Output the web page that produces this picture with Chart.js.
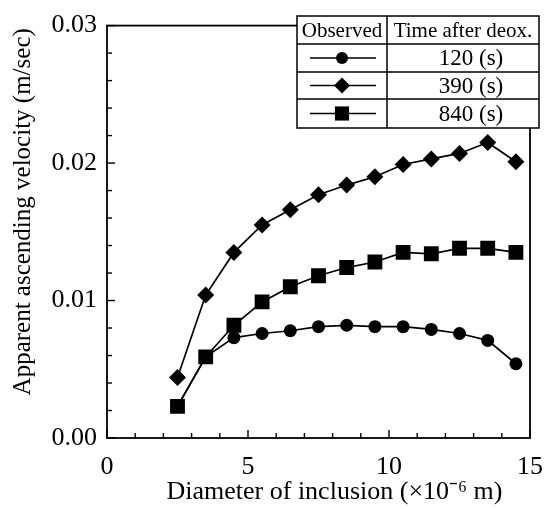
<!DOCTYPE html>
<html>
<head>
<meta charset="utf-8">
<script src="https://cdn.jsdelivr.net/npm/chart.js@4.4.1/dist/chart.umd.min.js"></script>
<style>
  html, body { margin: 0; padding: 0; background: #fff; }
</style>
</head>
<body>
<canvas id="chart" width="557" height="509"></canvas>
<script>
// Data
const diameters = [2.5, 3.5, 4.5, 5.5, 6.5, 7.5, 8.5, 9.5, 10.5, 11.5, 12.5, 13.5, 14.5];
const vel120 = [0.0023, 0.0059, 0.0073, 0.0076, 0.0078, 0.0081, 0.0082, 0.0081, 0.0081, 0.0079, 0.0076, 0.0071, 0.0054];
const vel390 = [0.0044, 0.0104, 0.0135, 0.0155, 0.0166, 0.0177, 0.0184, 0.0190, 0.0199, 0.0203, 0.0207, 0.0215, 0.0201];
const vel840 = [0.0023, 0.0059, 0.0082, 0.0099, 0.0110, 0.0118, 0.0124, 0.0128, 0.0135, 0.0134, 0.0138, 0.0138, 0.0135];

const seriesLabels = ['120 (s)', '390 (s)', '840 (s)'];
const seriesStyles = ['circle', 'rectRot', 'rect'];
const seriesRadius = [6.5, 8.5, 10.5];

const xTicks = [0, 5, 10, 15];
const yTicks = [0, 0.01, 0.02, 0.03];
const xMinorStep = 1;
const yMinorStep = 0.002;

const FONT = "'Liberation Serif', 'Times New Roman', serif";

function toPoints(values) {
    return values.map((v, i) => ({ x: diameters[i], y: v }));
}

const datasets = [vel120, vel390, vel840].map((vals, i) => ({
    label: seriesLabels[i],
    data: toPoints(vals),
    borderColor: '#000',
    backgroundColor: '#000',
    borderWidth: 1.7,
    pointStyle: seriesStyles[i],
    pointRadius: seriesRadius[i],
    pointBorderWidth: 0,
    tension: 0,
    fill: false
}));

function line(ctx, x1, y1, x2, y2) {
    ctx.beginPath();
    ctx.moveTo(x1, y1);
    ctx.lineTo(x2, y2);
    ctx.stroke();
}

// Frame, inward ticks and axis titles
const framePlugin = {
    id: 'framePlugin',
    beforeDatasetsDraw(chart) {
        const ctx = chart.ctx;
        const a = chart.chartArea;
        const xs = chart.scales.x, ys = chart.scales.y;
        ctx.save();
        ctx.strokeStyle = '#000';
        ctx.lineWidth = 1.8;
        ctx.strokeRect(a.left, a.top, a.right - a.left, a.bottom - a.top);

        ctx.lineWidth = 1.4;
        for (let v = 0; v <= 0.03 + 1e-9; v += yMinorStep) {
            const py = ys.getPixelForValue(v);
            const major = Math.abs(v / 0.01 - Math.round(v / 0.01)) < 1e-6;
            line(ctx, a.left, py, a.left + (major ? 8 : 5), py);
        }
        for (let v = 0; v <= 15 + 1e-9; v += xMinorStep) {
            const px = xs.getPixelForValue(v);
            const major = v % 5 === 0;
            line(ctx, px, a.bottom, px, a.bottom - (major ? 8 : 5));
        }

        ctx.fillStyle = '#000';
        ctx.textAlign = 'center';
        ctx.textBaseline = 'middle';
        ctx.font = '26px ' + FONT;
        ctx.fillText('Diameter of inclusion (\u00d710\u207b\u2076 m)', (a.left + a.right) / 2 + 16, a.bottom + 54);

        ctx.font = '25px ' + FONT;
        ctx.translate(a.left - 84, (a.top + a.bottom) / 2 - 20);
        ctx.rotate(-Math.PI / 2);
        ctx.fillText('Apparent ascending velocity (m/sec)', 0, 0);
        ctx.restore();
    }
};

// Legend table in upper right corner
const legendTable = {
    id: 'legendTable',
    afterDraw(chart) {
        const ctx = chart.ctx;
        const left = 297, mid = 387, right = 539;
        const rows = [16, 44, 72, 99, 128];
        ctx.save();
        ctx.fillStyle = '#fff';
        ctx.fillRect(left, rows[0], right - left, rows[4] - rows[0]);
        ctx.strokeStyle = '#000';
        ctx.lineWidth = 1.5;
        ctx.strokeRect(left, rows[0], right - left, rows[4] - rows[0]);
        line(ctx, mid, rows[0], mid, rows[4]);
        for (let i = 1; i < 4; i++) line(ctx, left, rows[i], right, rows[i]);

        ctx.fillStyle = '#000';
        ctx.textAlign = 'center';
        ctx.textBaseline = 'middle';
        ctx.font = '21px ' + FONT;
        ctx.fillText('Observed', (left + mid) / 2, (rows[0] + rows[1]) / 2 + 1, mid - left - 6);
        ctx.fillText('Time after deox.', (mid + right) / 2, (rows[0] + rows[1]) / 2 + 1, right - mid - 4);

        datasets.forEach((ds, i) => {
            const cy = (rows[i + 1] + rows[i + 2]) / 2;
            const cx = (left + mid) / 2;
            ctx.lineWidth = 1.6;
            line(ctx, left + 13, cy, mid - 11, cy);
            Chart.helpers.drawPoint(ctx, {
                pointStyle: ds.pointStyle,
                radius: ds.pointRadius - 0.5,
                rotation: 0,
                borderWidth: 0
            }, cx, cy);
            ctx.font = '23px ' + FONT;
            ctx.fillText(ds.label, (mid + right) / 2 + 8, cy + 1);
        });
        ctx.restore();
    }
};

new Chart(document.getElementById('chart'), {
    type: 'line',
    data: { datasets: datasets },
    options: {
        responsive: false,
        animation: false,
        layout: { padding: { top: 20, right: 16, left: 0, bottom: 0 } },
        plugins: {
            legend: { display: false },
            tooltip: { enabled: false }
        },
        scales: {
            x: {
                type: 'linear',
                min: 0,
                max: 15,
                afterFit: scale => { scale.height = 71; },
                afterBuildTicks: scale => { scale.ticks = xTicks.map(v => ({ value: v })); },
                grid: { display: false, drawTicks: false },
                border: { display: false },
                ticks: {
                    color: '#000',
                    padding: 14,
                    font: { family: FONT, size: 26 }
                }
            },
            y: {
                type: 'linear',
                min: 0,
                max: 0.03,
                afterFit: scale => { scale.width = 107; },
                afterBuildTicks: scale => { scale.ticks = yTicks.map(v => ({ value: v })); },
                grid: { display: false, drawTicks: false },
                border: { display: false },
                ticks: {
                    color: '#000',
                    padding: 10,
                    font: { family: FONT, size: 26 },
                    callback: v => v.toFixed(2)
                }
            }
        }
    },
    plugins: [framePlugin, legendTable]
});
</script>
</body>
</html>
